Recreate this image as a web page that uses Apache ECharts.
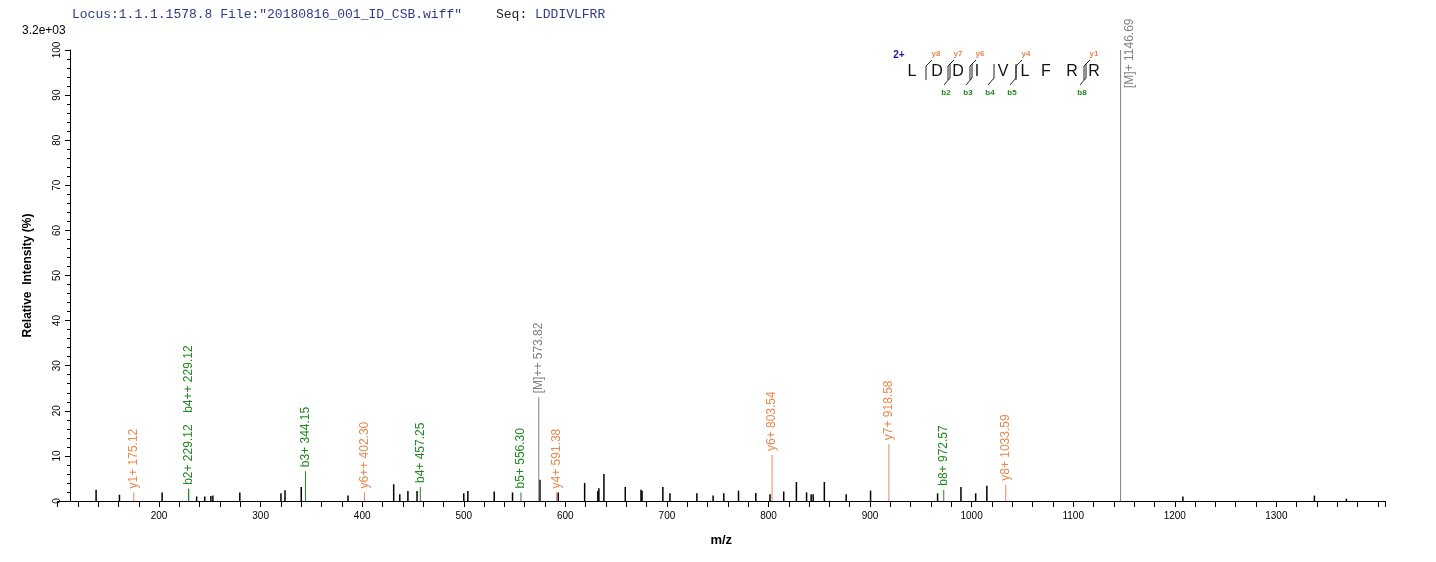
<!DOCTYPE html>
<html><head><meta charset="utf-8">
<script src="https://cdn.jsdelivr.net/npm/echarts@6/dist/echarts.min.js"></script>
<style>html,body{margin:0;padding:0;background:#fff}#c{width:1436px;height:562px}</style>
</head><body><div id="c"></div>
<script>
// unannotated peaks
const peakMz = [138,161,203,237,245,251,253,279.5,320,324,340,386,431,437,445,454,500,504,530,548,575,593,619,632,633,638,659,674.5,675.5,696,703,729.5,745.5,756,770.5,787.5,801.5,815,827.5,837.5,842,844,855,876.5,900.5,966.5,989.5,1004,1015,1208,1337.5,1369];
const peakInt = [2.5,1.4,1.9,1.0,1.0,1.1,1.2,1.9,1.7,2.4,3.1,1.2,3.7,1.5,2.2,2.2,1.7,2.2,2.1,1.9,4.7,1.9,4.0,2.2,2.8,6.0,3.1,2.5,2.3,3.1,1.7,1.7,1.2,1.7,2.3,1.8,1.5,2.1,4.2,1.9,1.5,1.5,4.2,1.5,2.3,1.7,3.1,1.7,3.4,1.0,1.2,0.5];
// annotated peaks
const annMz   = [175.12,229.12,229.12,344.15,402.30,457.25,556.30,573.82,591.38,803.54,918.58,972.57,1033.59,1146.69];
const annInt  = [1.9,2.7,2.7,6.6,1.9,3.1,1.9,23,1.9,10.2,12.6,2.5,3.6,100];
const annText = ['y1+ 175.12','b2+ 229.12','b4++ 229.12','b3+ 344.15','y6++ 402.30','b4+ 457.25','b5+ 556.30','[M]++ 573.82','y4+ 591.38','y6+ 803.54','y7+ 918.58','b8+ 972.57','y8+ 1033.59','[M]+ 1146.69'];
const annType = ['y','b','b','b','y','b','b','M','y','y','y','b','y','M'];
const seqLetters = ['L','D','D','I','V','L','F','R','R'];
const yFrags = ['y8','y7','y6','y4','y1'];
const bFrags = ['b2','b3','b4','b5','b8'];

const COL = {y:'#e8894e', b:'#1f8a1f', M:'#808080', p:'#000'};
const FONT = 'Liberation Sans, Arial, sans-serif';

const chart = echarts.init(document.getElementById('c'));
const peaks = peakMz.map((m,i)=>[m,peakInt[i]]);
const anns = annMz.map((m,i)=>[m,annInt[i]]);

function render(params, api){
  const mz = api.value(0), it = api.value(1);
  const type = params.seriesId==='ann' ? annType[params.dataIndex] : 'p';
  const text = params.seriesId==='ann' ? annText[params.dataIndex] : '';
  const base = api.coord([mz,0]), top = api.coord([mz,it]);
  const c = COL[type];
  const ch = [{type:'line',shape:{x1:base[0],y1:base[1],x2:top[0],y2:top[1]},style:{stroke:c,lineWidth:type==='p'?1.5:1}}];
  if(text){
    let stack = 0;
    for(let k=0;k<params.dataIndex;k++) if(annMz[k]===mz) stack++;
    let tx = top[0], ty = top[1]-4 - stack*72;
    if(it>90){ tx = top[0]+9; ty = top[1]+38; }
    ch.push({type:'text',x:tx,y:ty,rotation:Math.PI/2,
      style:{text:text,fill:c,font:'12px '+FONT,align:'left',verticalAlign:'middle'}});
  }
  return {type:'group',children:ch};
}

const g = [];
g.push({type:'text',left:72,top:8,style:{text:'Locus:1.1.1.1578.8 File:"20180816_001_ID_CSB.wiff"',fill:'#2f3b8f',font:'13px Liberation Mono, monospace'}});
g.push({type:'text',left:496,top:8,style:{text:'Seq:',fill:'#222',font:'13px Liberation Mono, monospace'}});
g.push({type:'text',left:535,top:8,style:{text:'LDDIVLFRR',fill:'#2f3b8f',font:'13px Liberation Mono, monospace'}});
g.push({type:'text',left:22,top:25,style:{text:'3.2e+03',fill:'#000',font:'12px '+FONT}});
const lx = [912,937,958,977,1003,1025,1046,1072,1094];
seqLetters.forEach((L,i)=>g.push({type:'text',x:lx[i],y:72,style:{text:L,fill:'#111',font:'16px '+FONT,align:'center',verticalAlign:'middle'}}));
g.push({type:'text',x:899,y:55,style:{text:'2+',fill:'#1a1aa0',font:'bold 10px '+FONT,align:'center',verticalAlign:'middle'}});
const yPos = [926,948,970,1016,1084];
yPos.forEach((x,i)=>{
  g.push({type:'polyline',shape:{points:[[x,80],[x,66],[x+6,60]]},style:{stroke:'#222',lineWidth:1,fill:null}});
  g.push({type:'text',x:x+10,y:54,style:{text:yFrags[i],fill:COL.y,font:'bold 8px '+FONT,align:'center',verticalAlign:'middle'}});
});
const bPos = [950,972,994,1016,1086];
bPos.forEach((x,i)=>{
  g.push({type:'polyline',shape:{points:[[x,64],[x,78],[x-6,85]]},style:{stroke:'#222',lineWidth:1,fill:null}});
  g.push({type:'text',x:x-4,y:93,style:{text:bFrags[i],fill:COL.b,font:'bold 8px '+FONT,align:'center',verticalAlign:'middle'}});
});

chart.setOption({
  animation:false,
  backgroundColor:'#fff',
  grid:{left:57.5,right:51,top:50,bottom:61,outerBoundsMode:'none',containLabel:false},
  graphic:g,
  xAxis:{type:'value',min:100,max:1407,interval:100,
    name:'m/z',nameLocation:'middle',nameGap:33,nameTextStyle:{fontFamily:FONT,fontWeight:'bold',fontSize:13,color:'#000'},
    axisLine:{lineStyle:{color:'#000'}},axisTick:{show:true,length:6,lineStyle:{color:'#000'}},
    minorTick:{show:true,splitNumber:5,length:6,lineStyle:{color:'#000'}},
    axisLabel:{color:'#000',fontFamily:FONT,fontSize:10,margin:10,showMaxLabel:false,showMinLabel:false,
      formatter:v=>(v%100!==0||v===100||v>=1400)?'':String(v)},
    splitLine:{show:false}},
  yAxis:{type:'value',min:0,max:100,interval:10,offset:-12.5,
    name:'Relative  Intensity (%)',nameLocation:'middle',nameGap:36,nameRotate:90,
    nameTextStyle:{fontFamily:FONT,fontWeight:'bold',fontSize:12,color:'#000'},
    axisLine:{show:true,onZero:false,lineStyle:{color:'#000'}},
    axisTick:{show:true,length:5,lineStyle:{color:'#000'}},
    minorTick:{show:true,splitNumber:5,length:3,lineStyle:{color:'#000'}},
    axisLabel:{color:'#000',fontFamily:FONT,fontSize:10,rotate:90,margin:8},
    splitLine:{show:false}},
  series:[
    {id:'peaks',type:'custom',renderItem:render,data:peaks,encode:{x:0,y:1},clip:false},
    {id:'ann',type:'custom',renderItem:render,data:anns,encode:{x:0,y:1},clip:false}
  ]
});
</script></body></html>
